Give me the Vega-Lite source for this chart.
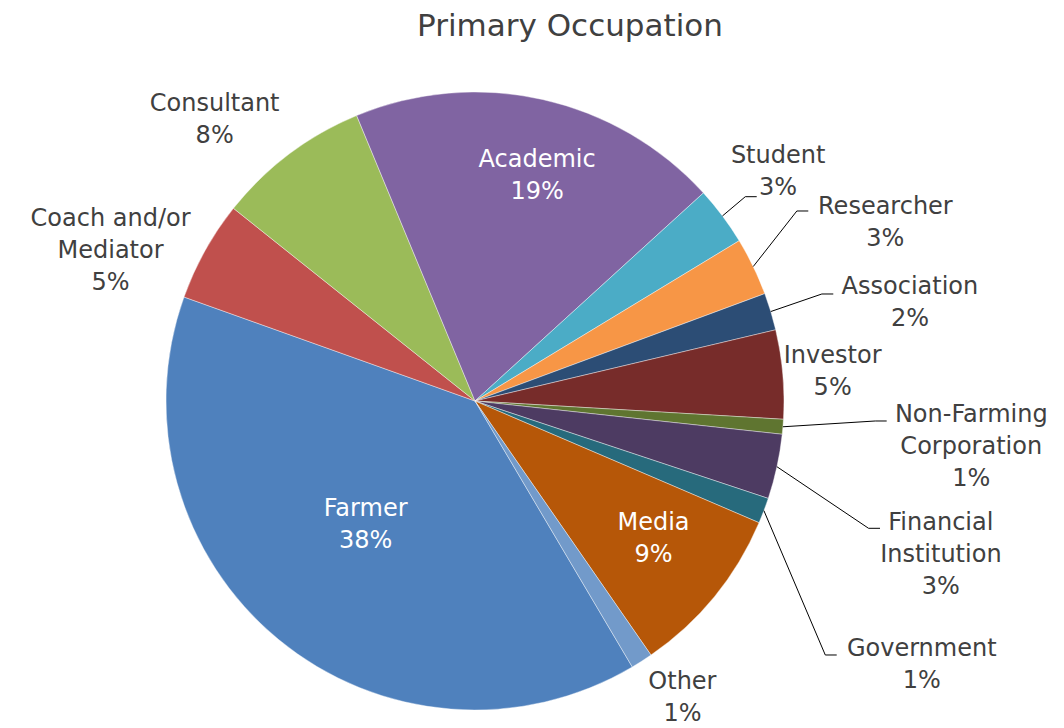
{
  "$schema": "https://vega.github.io/schema/vega-lite/v6.json",
  "width": 950,
  "height": 618,
  "autosize": "none",
  "padding": {"left": 0, "top": 92, "right": 114, "bottom": 18},
  "background": "white",
  "config": {"view": {"stroke": null}},
  "title": {
    "text": "Primary Occupation",
    "font": "DejaVu Sans",
    "fontSize": 31,
    "fontWeight": "normal",
    "color": "#404040",
    "anchor": "middle",
    "frame": "group",
    "offset": 48,
    "dx": 95
  },
  "data": {
    "values": [
      {"Category": "Farmer", "Percent": 38.19},
      {"Category": "Coach and/or Mediator", "Percent": 5.15},
      {"Category": "Consultant", "Percent": 7.87},
      {"Category": "Academic", "Percent": 19.11},
      {"Category": "Student", "Percent": 3.02},
      {"Category": "Researcher", "Percent": 2.97},
      {"Category": "Association", "Percent": 1.91},
      {"Category": "Investor", "Percent": 4.55},
      {"Category": "Non-Farming Corporation", "Percent": 0.76},
      {"Category": "Financial Institution", "Percent": 3.32},
      {"Category": "Government", "Percent": 1.31},
      {"Category": "Media", "Percent": 8.74},
      {"Category": "Other", "Percent": 1.12}
    ]
  },
  "transform": [
    {"window": [{"op": "row_number", "as": "idx"}]},
    {"joinaggregate": [{"op": "sum", "field": "Percent", "as": "total"}]},
    {"window": [{"op": "sum", "field": "Percent", "as": "cum"}], "sort": [{"field": "idx"}], "frame": [null, 0]},
    {"calculate": "2.6075 + 2*PI*(datum.cum - datum.Percent/2)/datum.total", "as": "mid"},
    {"calculate": "replace(replace(replace(datum.Category, 'Non-Farming ', 'Non-Farming\\n'), 'Financial ', 'Financial\\n'), 'and/or ', 'and/or\\n') + '\\n' + format(datum.Percent, '.0f') + '%'", "as": "label"}
  ],
  "layer": [
    {
      "mark": {"type": "arc", "radius": 309, "stroke": "#ffffff", "strokeWidth": 0.4},
      "encoding": {
        "theta": {"field": "Percent", "type": "quantitative", "stack": true, "scale": {"range": [2.6075, 8.8907]}},
        "order": {"field": "idx", "type": "quantitative"},
        "color": {
          "field": "Category",
          "type": "nominal",
          "scale": {
            "domain": ["Farmer", "Coach and/or Mediator", "Consultant", "Academic", "Student", "Researcher", "Association", "Investor", "Non-Farming Corporation", "Financial Institution", "Government", "Media", "Other"],
            "range": ["#4F81BD", "#C0504D", "#9BBB59", "#8064A2", "#4BACC6", "#F79646", "#2C4D75", "#772C2A", "#5F7530", "#4D3B62", "#276A7C", "#B65708", "#729ACA"]
          },
          "legend": null
        }
      }
    },
    {
      "transform": [
        {"filter": "indexof([5,6,7,9,10,11], datum.idx) >= 0"},
        {"calculate": "indexof([5,6,7,9,10,11], datum.idx)", "as": "k"},
        {"calculate": "sin(datum.mid)", "as": "sx"},
        {"calculate": "cos(datum.mid)", "as": "sy"},
        {"calculate": "[0.9117,1.0786,1.1595,1.3323,1.3107,1.1706][datum.k]", "as": "tx"},
        {"calculate": "[0.6612,0.6149,0.3463,-0.0647,-0.4120,-0.8220][datum.k]", "as": "ty"},
        {"calculate": "datum.tx - 0.037", "as": "ex"}
      ],
      "layer": [
        {
          "mark": {"type": "rule", "color": "#000000", "strokeWidth": 1},
          "encoding": {
            "x": {"field": "sx", "type": "quantitative", "scale": {"domain": [-1.53722, 1.53722], "nice": false, "zero": false}, "axis": null},
            "y": {"field": "sy", "type": "quantitative", "scale": {"domain": [-1, 1], "nice": false, "zero": false}, "axis": null},
            "x2": {"field": "ex"},
            "y2": {"field": "ty"}
          }
        },
        {
          "mark": {"type": "rule", "color": "#000000", "strokeWidth": 1},
          "encoding": {
            "x": {"field": "ex", "type": "quantitative", "scale": {"domain": [-1.53722, 1.53722], "nice": false, "zero": false}, "axis": null},
            "y": {"field": "ty", "type": "quantitative", "scale": {"domain": [-1, 1], "nice": false, "zero": false}, "axis": null},
            "x2": {"field": "tx"},
            "y2": {"field": "ty"}
          }
        }
      ]
    },
    {
      "mark": {
        "type": "text",
        "font": "DejaVu Sans",
        "fontSize": 24,
        "lineBreak": "\n",
        "lineHeight": 32,
        "align": "center",
        "baseline": "middle",
        "radius": {"expr": "[164,392,383,235,381,448,445,359,498,487,511,224,364][datum.idx-1]"},
        "dx": {"expr": "[-5,-22,-30,11,-2,7,9,0,0,-10,-31,5,11][datum.idx-1]"},
        "dy": {"expr": "[-18,9,9,-12,-17,1,15,-14,-28,18,67,-20,-25][datum.idx-1]"}
      },
      "encoding": {
        "theta": {"field": "Percent", "type": "quantitative", "stack": true},
        "order": {"field": "idx", "type": "quantitative"},
        "detail": {"field": "Category", "type": "nominal"},
        "text": {"field": "label", "type": "nominal"},
        "color": {
          "condition": {"test": "indexof([1,4,12], datum.idx) >= 0", "value": "#ffffff"},
          "value": "#404040"
        }
      }
    }
  ]
}
